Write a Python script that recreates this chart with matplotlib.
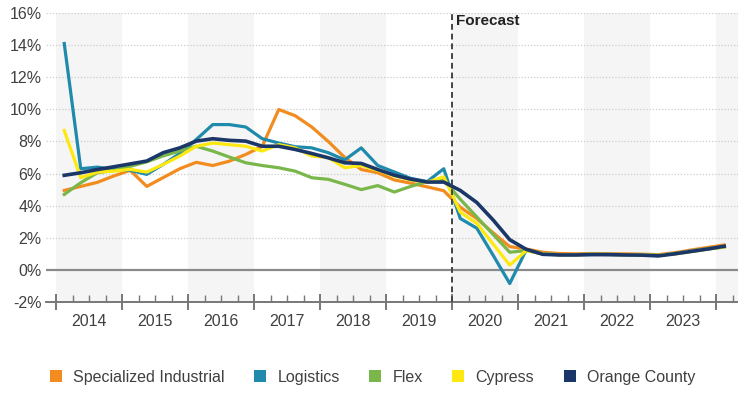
import numpy as np
import matplotlib
matplotlib.use("Agg")
import matplotlib.pyplot as plt
from matplotlib.patches import Patch
from matplotlib.ticker import FixedLocator

plt.rcParams['font.family'] = ['Liberation Sans', 'DejaVu Sans']

# quarterly data, 2014 Q1 .. 2024 Q1 (forecast from 2020 Q1)
quarters = 2014 + (np.arange(41) + 0.5) / 4

specialized = [4.95, 5.2, 5.45, 5.85, 6.2, 5.2, 5.75, 6.3, 6.7, 6.5, 6.77, 7.19,
               7.7, 9.99, 9.6, 8.9, 8.0, 7.0, 6.25, 6.05, 5.6, 5.4, 5.17, 4.93,
               3.9, 3.2, 2.3, 1.45, 1.3, 1.1, 1.02, 1.0, 1.02, 1.0, 1.0, 0.98,
               0.95, 1.07, 1.24, 1.4, 1.55]
logistics = [14.1, 6.3, 6.4, 6.26, 6.2, 5.95, 6.57, 7.25, 8.12, 9.05, 9.05, 8.9,
             8.17, 7.9, 7.67, 7.6, 7.3, 6.85, 7.6, 6.5, 6.1, 5.7, 5.5, 6.3,
             3.2, 2.6, 0.9, -0.85, 1.25, 1.0, 0.95, 0.95, 0.97, 0.96, 0.95, 0.93,
             0.9, 1.02, 1.18, 1.32, 1.45]
flex = [4.7, 5.43, 6.05, 6.2, 6.45, 6.73, 7.1, 7.4, 7.7, 7.4, 7.03, 6.67,
        6.5, 6.36, 6.15, 5.74, 5.64, 5.33, 5.0, 5.25, 4.85, 5.2, 5.5, 5.6,
        4.4, 3.3, 2.2, 1.1, 1.2, 1.0, 0.95, 0.95, 0.97, 0.96, 0.95, 0.93,
        0.9, 1.0, 1.15, 1.3, 1.42]
cypress = [8.68, 5.74, 6.09, 6.15, 6.26, 6.09, 6.57, 7.09, 7.7, 7.9, 7.8, 7.7,
           7.4, 7.8, 7.6, 7.09, 7.0, 6.36, 6.5, 6.2, 5.85, 5.6, 5.45, 5.8,
           3.6, 2.9, 1.6, 0.3, 1.2, 1.0, 0.95, 0.95, 0.97, 0.96, 0.95, 0.93,
           0.9, 1.0, 1.15, 1.3, 1.43]
orange_county = [5.89, 6.05, 6.25, 6.42, 6.6, 6.78, 7.3, 7.6, 8.02, 8.17, 8.07, 8.02,
                 7.7, 7.7, 7.5, 7.25, 6.98, 6.67, 6.63, 6.25, 5.9, 5.65, 5.47, 5.47,
                 4.95, 4.2, 3.1, 1.88, 1.28, 0.97, 0.93, 0.93, 0.95, 0.95, 0.93, 0.92,
                 0.87, 1.0, 1.15, 1.3, 1.47]

names = ["Specialized Industrial", "Logistics", "Flex", "Cypress", "Orange County"]
colors = ["#f28c1e", "#1f8aab", "#79b74a", "#fde910", "#1b3768"]
series = [specialized, logistics, flex, cypress, orange_county]

fig = plt.figure(figsize=(7.38, 3.93), dpi=100)
ax = fig.add_axes([46/738, 1 - 302/393, 692/738, 289/393])

ax.set_xlim(2014 - 10/66, 2014 + 682/66)
ax.set_ylim(-2, 16)

# alternating year bands
for yr in range(2014, 2025, 2):
    ax.axvspan(yr, yr + 1, color="#f5f5f5", zorder=0, lw=0)

for v in range(2, 17, 2):
    ax.axhline(v, color="#cccccc", lw=0.9, ls=(0, (1, 1.5)), zorder=1)
ax.axhline(0, color="#8a8a8a", lw=1.6, zorder=1)

for vals, c in zip(series, colors):
    lw = 2.6 if c == "#1b3768" else 2.3
    ax.plot(quarters, vals, color=c, lw=lw, zorder=3)

ax.axvline(2020, color="#444444", lw=1.4, ls=(0, (3, 2)), zorder=4)
ax.text(2020.06, 15.95, "Forecast", fontsize=11, fontweight="bold",
        color="#222222", va="top", ha="left")

for s in ["top", "right", "left"]:
    ax.spines[s].set_visible(False)
ax.spines["bottom"].set_color("#777777")
ax.spines["bottom"].set_linewidth(1.4)

ax.set_yticks(range(-2, 17, 2))
ax.set_yticklabels([f"{v}%" for v in range(-2, 17, 2)])
ax.tick_params(axis="y", length=0, pad=3, labelsize=11.5, labelcolor="#404040")

years = list(range(2014, 2025))
ax.xaxis.set_major_locator(FixedLocator(years))
ax.xaxis.set_minor_locator(FixedLocator([y + q / 4 for y in range(2014, 2024) for q in (1, 2, 3)]
                                        + [2024.25]))
ax.set_xticklabels([])
ax.tick_params(axis="x", which="major", direction="inout", length=12, width=1.4,
               color="#777777")
ax.tick_params(axis="x", which="minor", direction="in", length=5, width=1.0,
               color="#777777")
for y in range(2014, 2024):
    ax.text(y + 0.5, -2.75, str(y), ha="center", va="top", fontsize=11.5,
            color="#404040")

handles = [Patch(facecolor=c, edgecolor="none") for c in colors]
fig.legend(handles, names, loc="center", bbox_to_anchor=(0.505, 0.04), ncol=5,
           frameon=False, fontsize=11.5, handlelength=0.75, handleheight=0.8,
           handletextpad=0.7, columnspacing=1.85, labelcolor="#404040")

fig.savefig("out.png", dpi=100)
